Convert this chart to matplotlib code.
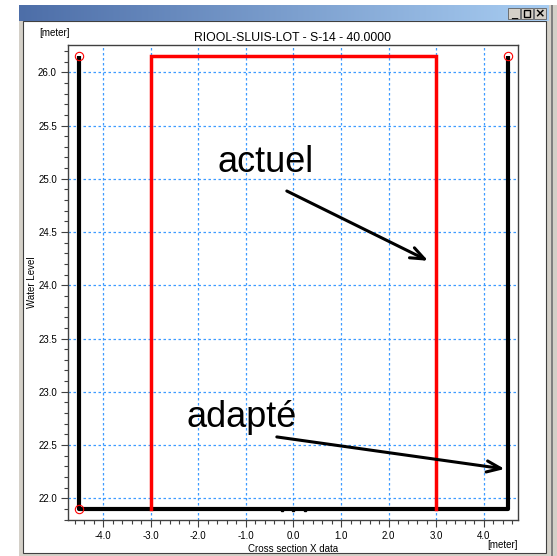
import numpy as np
import matplotlib.pyplot as plt
from matplotlib.patches import Rectangle
from matplotlib.colors import LinearSegmentedColormap
from matplotlib.ticker import MultipleLocator

plt.rcParams['font.family'] = ['Liberation Sans', 'DejaVu Sans']

# cross section profiles
adapte_x = [-4.5, -4.5, 4.5, 4.5]
adapte_y = [26.15, 21.9, 21.9, 26.15]
actuel_x = [-3.0, -3.0, 3.0, 3.0]
actuel_y = [21.9, 26.15, 26.15, 21.9]
circle_x = [-4.5, -4.5, 4.5]
circle_y = [26.15, 21.9, 26.15]
dot_x = [-0.25, 0.0, 0.24]
dot_y = [21.89, 21.89, 21.89]

title = "RIOOL-SLUIS-LOT - S-14 - 40.0000"

W, H = 557, 556
fig = plt.figure(figsize=(W / 100, H / 100), dpi=100)
fig.patch.set_facecolor('white')


def px_rect(x0, y0, x1, y1, **kw):
    # rectangle given in pixel coords from top-left
    r = Rectangle((x0 / W, 1 - y1 / H), (x1 - x0) / W, (y1 - y0) / H,
                  transform=fig.transFigure, **kw)
    fig.patches.append(r)
    return r


# window frame
px_rect(19, 5, 557, 556, facecolor='#d4d0c8', edgecolor='none', zorder=0)
px_rect(23, 21, 546, 553, facecolor='white', edgecolor='#404040', lw=0.8, zorder=1)
px_rect(551, 5, 553, 556, facecolor='#808080', edgecolor='none', zorder=1)

# title bar gradient
grad = np.linspace(0, 1, 256).reshape(1, -1)
cax = fig.add_axes([19 / W, 1 - 21 / H, (549 - 19) / W, 16 / H], zorder=2)
cmap = LinearSegmentedColormap.from_list('bar', ['#4d6ea8', '#a8cdf2'])
cax.imshow(grad, aspect='auto', cmap=cmap, extent=[0, 1, 0, 1])
cax.set_axis_off()

# window buttons
for i in range(3):
    bx = 508 + i * 13
    px_rect(bx, 8, bx + 12, 19, facecolor='#d4d0c8', edgecolor='#606060', lw=0.6, zorder=3)

fig.text(514 / W, 1 - 15 / H, '_', ha='center', va='center', fontsize=8,
         fontweight='bold', zorder=4)
px_rect(524, 10.5, 530, 16.5, facecolor='none', edgecolor='black', lw=1.0, zorder=4)
fig.text(540 / W, 1 - 13.5 / H, '×', ha='center', va='center', fontsize=9,
         fontweight='bold', zorder=4, family=['DejaVu Sans'])

# plot area
ax = fig.add_axes([68 / W, 1 - 520 / H, (518 - 68) / W, (520 - 45) / H], zorder=5)
ax.set_xlim(-4.74, 4.72)
ax.set_ylim(21.796, 26.256)

ax.plot(adapte_x, adapte_y, color='black', lw=3, solid_capstyle='butt', zorder=3)
ax.plot(actuel_x, actuel_y, color='red', lw=2.5, solid_joinstyle='miter', zorder=3)
ax.plot(dot_x, dot_y, 's', color='black', ms=1.8, zorder=4)
ax.plot(circle_x, circle_y, 'o', mfc='none', mec='red', mew=0.8, ms=6, zorder=5)

ax.xaxis.set_major_locator(MultipleLocator(1.0))
ax.xaxis.set_minor_locator(MultipleLocator(0.2))
ax.yaxis.set_major_locator(MultipleLocator(0.5))
ax.yaxis.set_minor_locator(MultipleLocator(0.1))
ax.xaxis.set_major_formatter(lambda v, p: f'{v:.1f}')
ax.yaxis.set_major_formatter(lambda v, p: f'{v:.1f}')

ax.grid(True, which='major', color='#3d9bff', lw=0.9, ls=(0, (2, 2)))
ax.tick_params(which='major', direction='out', length=5, width=0.8,
               color='#404040', labelsize=7, pad=3)
ax.tick_params(which='minor', direction='out', length=3, width=0.8, color='#404040')
for s in ax.spines.values():
    s.set_color('#404040')
    s.set_linewidth(1.0)

ax.set_title(title, fontsize=8.8, pad=3)
ax.set_ylabel('Water Level', fontsize=7)
ax.yaxis.set_label_coords(-0.068, 0.5)
ax.set_xlabel('Cross section X data', fontsize=7, labelpad=2)
fig.text(55 / W, 1 - 33 / H, '[meter]', ha='center', va='center', fontsize=7)
fig.text(518 / W, 1 - 545 / H, '[meter]', ha='right', va='center', fontsize=7)

# annotations
arrow = dict(arrowstyle='->,head_length=1.0,head_width=0.4', color='black',
             lw=2.2, shrinkA=0, shrinkB=0)
ax.annotate('', xy=(2.83, 24.23), xytext=(-0.14, 24.885), arrowprops=arrow, zorder=6)
ax.annotate('', xy=(4.44, 22.275), xytext=(-0.35, 22.576), arrowprops=arrow, zorder=6)
ax.text(-0.58, 25.064, 'actuel', fontsize=26, ha='center', va='baseline', zorder=6)
ax.text(-2.24, 22.67, 'adapté', fontsize=26, ha='left', va='baseline', zorder=6)

fig.savefig('out.png', dpi=100)
